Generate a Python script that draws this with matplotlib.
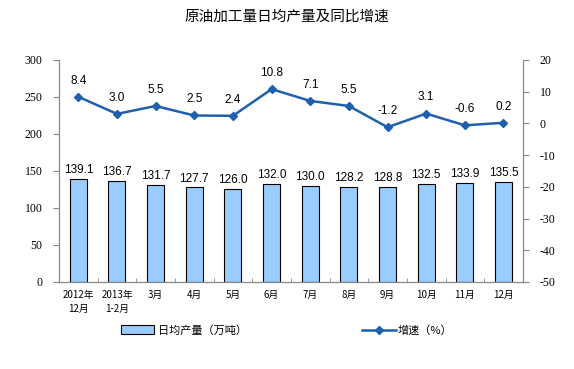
import numpy as np
import matplotlib
matplotlib.use("Agg")
import matplotlib.pyplot as plt
from matplotlib.lines import Line2D
from matplotlib.patches import Patch

plt.rcParams["font.family"] = ["Noto Sans CJK SC", "DejaVu Sans"]
plt.rcParams["axes.unicode_minus"] = False

months = ["2012年\n12月", "2013年\n1-2月", "3月", "4月", "5月", "6月",
          "7月", "8月", "9月", "10月", "11月", "12月"]
output = [139.1, 136.7, 131.7, 127.7, 126.0, 132.0,
          130.0, 128.2, 128.8, 132.5, 133.9, 135.5]
growth = [8.4, 3.0, 5.5, 2.5, 2.4, 10.8, 7.1, 5.5, -1.2, 3.1, -0.6, 0.2]

bar_color = "#99CCFF"
line_color = "#1F5FAD"

fig = plt.figure(figsize=(5.74, 3.69), dpi=100)
ax = fig.add_axes([0.1028, 0.2358, 0.808, 0.6016])
ax2 = ax.twinx()

x = np.arange(len(months))
ax.bar(x, output, width=0.44, color=bar_color, edgecolor="black", linewidth=0.8, zorder=2)
for xi, v in zip(x, output):
    ax.text(xi, v + 4, f"{v:.1f}", ha="center", va="bottom",
            fontsize=8.5, family="Liberation Sans")

ax2.plot(x, growth, color=line_color, lw=1.8, marker="D", markersize=4.5, zorder=3)
for xi, v in zip(x, growth):
    ax2.text(xi, v + 3.2, f"{v:.1f}", ha="center", va="bottom",
             fontsize=8.5, family="Liberation Sans")

ax.set_xlim(-0.5, len(months) - 0.5)
ax.set_ylim(0, 300)
ax.set_yticks(range(0, 301, 50))
ax2.set_ylim(-50, 20)
ax2.set_yticks(range(-50, 21, 10))

ax.set_xticks(x)
ax.set_xticklabels(months, fontsize=7, linespacing=1.5)
ax.set_xticks(np.arange(-0.5, len(months), 1), minor=True)
ax.tick_params(axis="x", which="major", length=0, pad=6)
ax.tick_params(axis="x", which="minor", length=3, direction="in", color="#888888")

for a in (ax, ax2):
    for lab in a.get_yticklabels():
        lab.set_family("Liberation Serif")
        lab.set_fontsize(8.5)
    a.tick_params(axis="y", length=4, color="#888888", pad=8)
    for s in ("top",):
        a.spines[s].set_visible(False)
    for s in ("left", "right", "bottom"):
        a.spines[s].set_color("#888888")

fig.text(0.5, 0.955, "原油加工量日均产量及同比增速", ha="center", va="center", fontsize=10.5)

h1 = Patch(facecolor=bar_color, edgecolor="black", linewidth=0.8)
h2 = Line2D([], [], color=line_color, lw=1.8, marker="D", markersize=4.5)
fig.legend([h1], ["日均产量（万吨）"], loc="center", bbox_to_anchor=(0.32, 0.105),
           frameon=False, fontsize=8, handlelength=3, handleheight=0.8, handletextpad=0.3)
fig.legend([h2], ["增速（%）"], loc="center", bbox_to_anchor=(0.71, 0.105),
           frameon=False, fontsize=8, handlelength=3, handletextpad=0.2)

fig.savefig("out.png", dpi=100)
